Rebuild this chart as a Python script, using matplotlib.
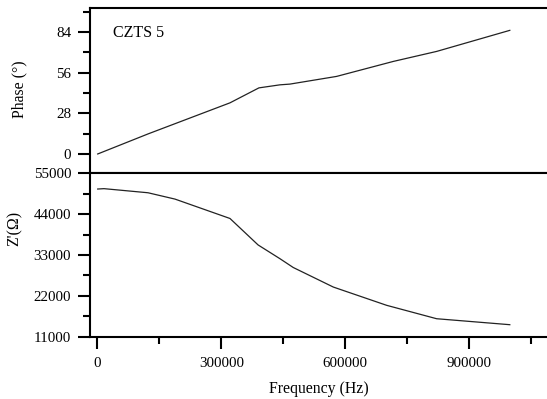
import matplotlib
matplotlib.use("Agg")
import matplotlib.pyplot as plt
from matplotlib.ticker import MultipleLocator

plt.rcParams['font.family'] = ['Liberation Serif', 'DejaVu Serif']

# data
freq_phase = [1000, 122700, 321000, 391000, 442000, 466000, 579000, 716000, 821000, 998000]
phase = [0, 13.8, 35.2, 45.5, 47.6, 48.1, 53.4, 63.7, 70.6, 85.1]

freq_z = [1000, 16200, 55000, 122700, 188000, 321000, 389000, 442000, 474000,
          571000, 700000, 821000, 998000]
z_real = [50700, 50800, 50400, 49700, 48000, 42800, 35700, 32000, 29650,
          24400, 19500, 15900, 14300]

fs = 10.8
lfs = 11.3
fig = plt.figure(figsize=(5.47, 3.99), dpi=100)
ax1 = fig.add_axes([0.1645, 0.5664, 0.8355, 0.4136])
ax2 = fig.add_axes([0.1645, 0.1554, 0.8355, 0.411])

xlim = (-17700, 1088000)

ax1.plot(freq_phase, phase, color='#222222', lw=0.9)
ax1.set_xlim(xlim)
ax1.set_ylim(-13.1, 100.5)
ax1.set_yticks([0, 28, 56, 84])
ax1.yaxis.set_minor_locator(MultipleLocator(14))
ax1.set_xticks([])
ax1.set_ylabel('Phase (°)', fontsize=lfs)
ax1.yaxis.set_label_coords(-0.137, 0.51)
ax1.text(0.05, 0.848, 'CZTS 5', transform=ax1.transAxes, fontsize=11.5,
         va='center')

ax2.plot(freq_z, z_real, color='#222222', lw=0.9)
ax2.set_xlim(xlim)
ax2.set_ylim(11000, 55000)
ax2.set_yticks([11000, 22000, 33000, 44000, 55000])
ax2.yaxis.set_minor_locator(MultipleLocator(5500))
ax2.set_xticks([0, 300000, 600000, 900000])
ax2.xaxis.set_minor_locator(MultipleLocator(150000))
ax2.set_xlabel('Frequency (Hz)', fontsize=lfs, labelpad=8)
ax2.set_ylabel("Z'(Ω)", fontsize=lfs)
ax2.yaxis.set_label_coords(-0.147, 0.665)

for ax in (ax1, ax2):
    ax.spines['right'].set_visible(False)
    for s in ax.spines.values():
        s.set_linewidth(1.5)
    ax.tick_params(which='major', direction='out', length=8.5, width=1.5,
                   labelsize=fs, pad=5)
    ax.tick_params(which='minor', direction='out', length=5, width=1.5)
ax2.tick_params(axis='x', which='major', pad=6)

fig.savefig('out.png', dpi=100)
